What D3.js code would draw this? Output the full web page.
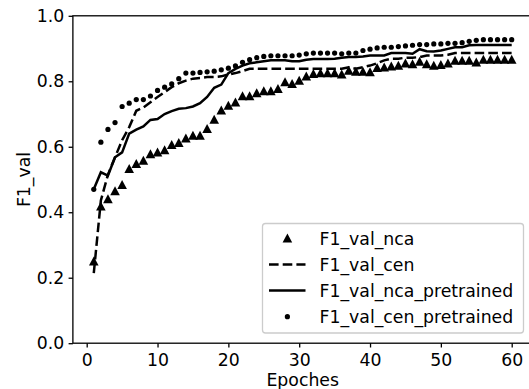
<!DOCTYPE html>
<html><head><meta charset="utf-8">
<script src="https://cdn.jsdelivr.net/npm/d3@7"></script>
<style>body{margin:0;background:#fff}svg{display:block;font-family:"DejaVu Sans",sans-serif}</style>
</head><body><svg id="c" width="529" height="389"></svg>
<script>
const epochs = d3.range(1, 61);
const f1ValNca = [0.25,0.418,0.44,0.465,0.484,0.533,0.548,0.558,0.578,0.583,0.59,0.606,0.612,0.626,0.634,0.634,0.655,0.683,0.711,0.726,0.736,0.755,0.755,0.764,0.77,0.77,0.777,0.798,0.792,0.802,0.815,0.823,0.825,0.825,0.825,0.821,0.833,0.83,0.83,0.828,0.841,0.843,0.846,0.848,0.855,0.853,0.86,0.853,0.848,0.85,0.855,0.863,0.863,0.863,0.858,0.866,0.866,0.866,0.866,0.866];
const f1ValCen = [0.214,0.436,0.515,0.568,0.62,0.66,0.71,0.72,0.736,0.752,0.767,0.782,0.794,0.802,0.808,0.81,0.813,0.813,0.815,0.821,0.825,0.831,0.838,0.838,0.838,0.838,0.838,0.838,0.838,0.838,0.838,0.838,0.838,0.838,0.838,0.838,0.843,0.838,0.843,0.848,0.855,0.864,0.869,0.869,0.872,0.872,0.874,0.879,0.879,0.879,0.881,0.886,0.886,0.886,0.886,0.886,0.886,0.886,0.886,0.886];
const f1ValNcaPre = [0.47,0.522,0.512,0.568,0.583,0.64,0.652,0.662,0.682,0.685,0.70,0.709,0.716,0.718,0.723,0.733,0.752,0.78,0.79,0.825,0.838,0.848,0.855,0.858,0.861,0.864,0.864,0.864,0.861,0.861,0.866,0.868,0.868,0.868,0.869,0.872,0.874,0.874,0.876,0.879,0.879,0.879,0.886,0.886,0.886,0.884,0.898,0.892,0.891,0.894,0.899,0.904,0.904,0.91,0.911,0.911,0.911,0.911,0.911,0.911];
const f1ValCenPre = [0.47,0.614,0.653,0.674,0.723,0.733,0.744,0.744,0.755,0.772,0.782,0.792,0.808,0.825,0.825,0.827,0.829,0.831,0.835,0.84,0.847,0.858,0.866,0.872,0.876,0.878,0.878,0.878,0.878,0.88,0.884,0.886,0.886,0.886,0.886,0.884,0.886,0.886,0.894,0.898,0.902,0.904,0.904,0.906,0.908,0.91,0.912,0.912,0.914,0.914,0.916,0.916,0.918,0.922,0.925,0.927,0.927,0.927,0.927,0.927];
const xTicks = [0,10,20,30,40,50,60];
const yTicks = [0.0,0.2,0.4,0.6,0.8,1.0];
const legendLabels = ["F1_val_nca","F1_val_cen","F1_val_nca_pretrained","F1_val_cen_pretrained"];

const svg = d3.select("#c");
const T = 15.8, B = 343.2;
const x = d3.scaleLinear().domain([0, 60]).range([86.7, 511.7]);
const L = x(-1.95), R = x(62.95);
const y = d3.scaleLinear().domain([0, 1]).range([B, T]);
const fs = 17.3;
const lw = 2.5, dash = "9.6,4.1";
const triPath = "M0,-4.8L4.8,4.2L-4.8,4.2Z";

const line = d3.line().x((d,i)=>x(epochs[i])).y(d=>y(d));
const g = svg.append("g");
g.append("path").datum(f1ValCen).attr("d", line).attr("fill","none").attr("stroke","#000").attr("stroke-width",lw).attr("stroke-dasharray",dash);
g.append("path").datum(f1ValNcaPre).attr("d", line).attr("fill","none").attr("stroke","#000").attr("stroke-width",lw);
g.selectAll(".tri").data(f1ValNca).join("path").attr("d", triPath)
  .attr("transform",(d,i)=>`translate(${x(epochs[i])},${y(d)})`).attr("fill","#000");
g.selectAll(".dot").data(f1ValCenPre).join("circle").attr("cx",(d,i)=>x(epochs[i])).attr("cy",d=>y(d)).attr("r",2.6).attr("fill","#000");

// axes
const xa = svg.append("g").attr("transform",`translate(0,${B})`)
  .call(d3.axisBottom(x).tickValues(xTicks).tickFormat(d3.format("d")).tickSizeOuter(0).tickSize(4.3).tickPadding(6));
const ya = svg.append("g").attr("transform",`translate(${L},0)`)
  .call(d3.axisLeft(y).tickValues(yTicks).tickFormat(d3.format(".1f")).tickSizeOuter(0).tickSize(4.3).tickPadding(4.4));
[xa,ya].forEach(a=>{a.select(".domain").remove();a.selectAll("text").attr("font-size",fs).attr("fill","#000").attr("font-family","DejaVu Sans");a.selectAll("line").attr("stroke","#000").attr("stroke-width",1.3);});
svg.append("rect").attr("x",L).attr("y",T).attr("width",R-L).attr("height",B-T).attr("fill","none").attr("stroke","#000").attr("stroke-width",1.3);

svg.append("text").attr("x",(L+R)/2).attr("y",386).attr("text-anchor","middle").attr("font-size",fs).text("Epoches");
svg.append("text").attr("transform",`translate(30,${(T+B)/2}) rotate(-90)`).attr("text-anchor","middle").attr("font-size",fs).text("F1_val");

// legend
const lg = svg.append("g");
lg.append("rect").attr("x",262.5).attr("y",223.5).attr("width",261).attr("height",109.5).attr("rx",3).attr("fill","rgba(255,255,255,0.8)").attr("stroke","#ccc").attr("stroke-width",1.3);
const rows = [238.3,264.4,290.6,316.7];
legendLabels.forEach((lab,i)=>{
  const cy = rows[i];
  if(i===0) lg.append("path").attr("d",triPath).attr("transform",`translate(287.4,${cy})`);
  if(i===1) lg.append("line").attr("x1",269).attr("x2",305.5).attr("y1",cy).attr("y2",cy).attr("stroke","#000").attr("stroke-width",lw).attr("stroke-dasharray",dash);
  if(i===2) lg.append("line").attr("x1",269).attr("x2",305.5).attr("y1",cy).attr("y2",cy).attr("stroke","#000").attr("stroke-width",lw);
  if(i===3) lg.append("circle").attr("cx",287.4).attr("cy",cy).attr("r",2.6);
  lg.append("text").attr("x",319.5).attr("y",cy).attr("dy","0.36em").attr("font-size",fs).text(lab);
});
</script></body></html>
